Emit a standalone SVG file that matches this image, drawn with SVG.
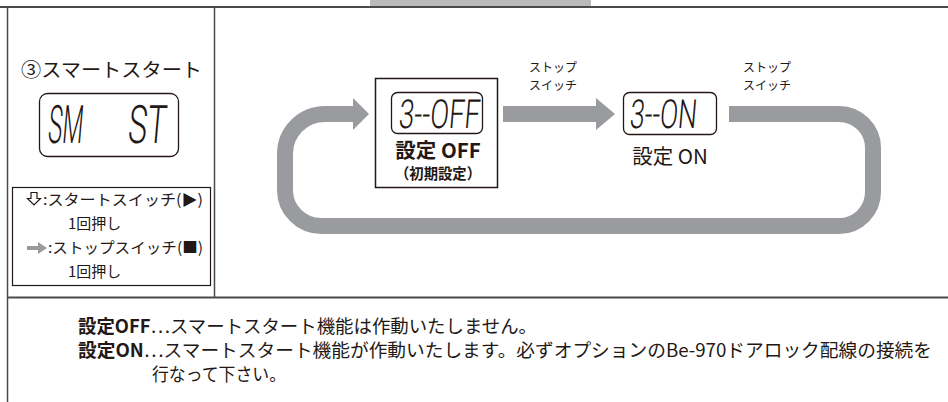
<svg xmlns="http://www.w3.org/2000/svg" width="948" height="402" viewBox="0 0 948 402">
<defs>
<style>
.jp{font-family:"Noto Sans CJK JP","Noto Sans",sans-serif;fill:#231815}
.lcd{font-family:Roboto,"Liberation Sans",sans-serif;font-weight:300;fill:#231815}
.frame{stroke:#4a4a4a;fill:none}
.lcdbox{fill:#fff;stroke:#231815;stroke-width:1.3}
.band{fill:none;stroke:#9a9b9e;stroke-width:16}
.head{fill:#9a9b9e}
</style>
</defs>
<rect x="0" y="0" width="948" height="402" fill="#fff"/>
<rect x="370" y="0" width="221" height="6" fill="#b9babc"/>
<g id="frame">
<line class="frame" x1="0" y1="7" x2="948" y2="7" stroke-width="2.2"/>
<line class="frame" x1="7.5" y1="7" x2="7.5" y2="402" stroke-width="1.5"/>
<line class="frame" x1="214.5" y1="7" x2="214.5" y2="297" stroke-width="1.5"/>
<line class="frame" x1="7" y1="297.5" x2="948" y2="297.5" stroke-width="2"/>
</g>
<g id="title">
<text class="jp" x="21" y="77" font-size="19.5" textLength="181" lengthAdjust="spacingAndGlyphs">③スマートスタート</text>
</g>
<g id="lcd-smst">
<rect class="lcdbox" x="39.5" y="93.5" width="139" height="63" rx="8"/>
<text class="lcd" transform="translate(47,143) skewX(-5)" x="0" y="0" font-size="53" textLength="35" lengthAdjust="spacingAndGlyphs">SM</text>
<text class="lcd" transform="translate(127,143) skewX(-5)" x="0" y="0" font-size="53" textLength="38" lengthAdjust="spacingAndGlyphs">ST</text>
</g>
<g id="legend">
<rect x="12.5" y="187.5" width="198" height="98" fill="#fff" stroke="#231815" stroke-width="1.2"/>
<path d="M31,192.5 H37 V198.5 H40.5 L34,205 L27.5,198.5 H31 Z" fill="#fff" stroke="#231815" stroke-width="1.2"/>
<text class="jp" x="43" y="205" font-size="15" textLength="160" lengthAdjust="spacingAndGlyphs">:スタートスイッチ(▶)</text>
<text class="jp" x="68" y="229" font-size="15">1回押し</text>
<path d="M27,246 H38 V242 L47,248 L38,254 V250 H27 Z" fill="#9a9b9e"/>
<text class="jp" x="48" y="253" font-size="15" textLength="155" lengthAdjust="spacingAndGlyphs">:ストップスイッチ(■)</text>
<text class="jp" x="68" y="277" font-size="15">1回押し</text>
</g>
<g id="connectors">
<path class="band" d="M729,114 H839 A34,34 0 0 1 873,148 V192 A34,34 0 0 1 839,226 H321 A36,36 0 0 1 285,190 V154 A40,40 0 0 1 325,114 H355"/>
<polygon class="head" points="353,98 369,114 353,130"/>
<path class="band" d="M503,114 H598"/>
<polygon class="head" points="596,98 615,114 596,130"/>
</g>
<g id="label-stop1">
<text class="jp" x="529" y="72" font-size="12">ストップ</text>
<text class="jp" x="529" y="89.5" font-size="12">スイッチ</text>
</g>
<g id="label-stop2">
<text class="jp" x="743" y="72" font-size="12">ストップ</text>
<text class="jp" x="743" y="89.5" font-size="12">スイッチ</text>
</g>
<g id="node-off">
<rect x="375.5" y="78.5" width="122" height="109" fill="#fff" stroke="#231815" stroke-width="1.5"/>
<rect class="lcdbox" x="391.5" y="92.5" width="91" height="41" rx="6"/>
<text class="lcd" transform="translate(398,128) skewX(-5)" x="0" y="0" font-size="40" textLength="81" lengthAdjust="spacingAndGlyphs">3--OFF</text>
<text class="jp" x="438" y="158" font-size="20.5" font-weight="bold" text-anchor="middle">設定 OFF</text>
<text class="jp" x="395" y="179" font-size="15" font-weight="bold" textLength="86" lengthAdjust="spacingAndGlyphs">（初期設定）</text>
</g>
<g id="node-on">
<rect class="lcdbox" x="623.5" y="92.5" width="93" height="42" rx="6"/>
<text class="lcd" transform="translate(629,128) skewX(-5)" x="0" y="0" font-size="40" textLength="67" lengthAdjust="spacingAndGlyphs">3--ON</text>
<text class="jp" x="670" y="164" font-size="20.5" text-anchor="middle">設定 ON</text>
</g>
<g id="note">
<text class="jp" x="78" y="333" font-size="18.5" textLength="459" lengthAdjust="spacingAndGlyphs"><tspan font-weight="bold">設定OFF</tspan>…スマートスタート機能は作動いたしません。</text>
<text class="jp" x="78" y="357" font-size="18.5" textLength="854" lengthAdjust="spacingAndGlyphs"><tspan font-weight="bold">設定ON</tspan>…スマートスタート機能が作動いたします。必ずオプションのBe-970ドアロック配線の接続を</text>
<text class="jp" x="152" y="381" font-size="18.5" textLength="134" lengthAdjust="spacingAndGlyphs">行なって下さい。</text>
</g>
</svg>
